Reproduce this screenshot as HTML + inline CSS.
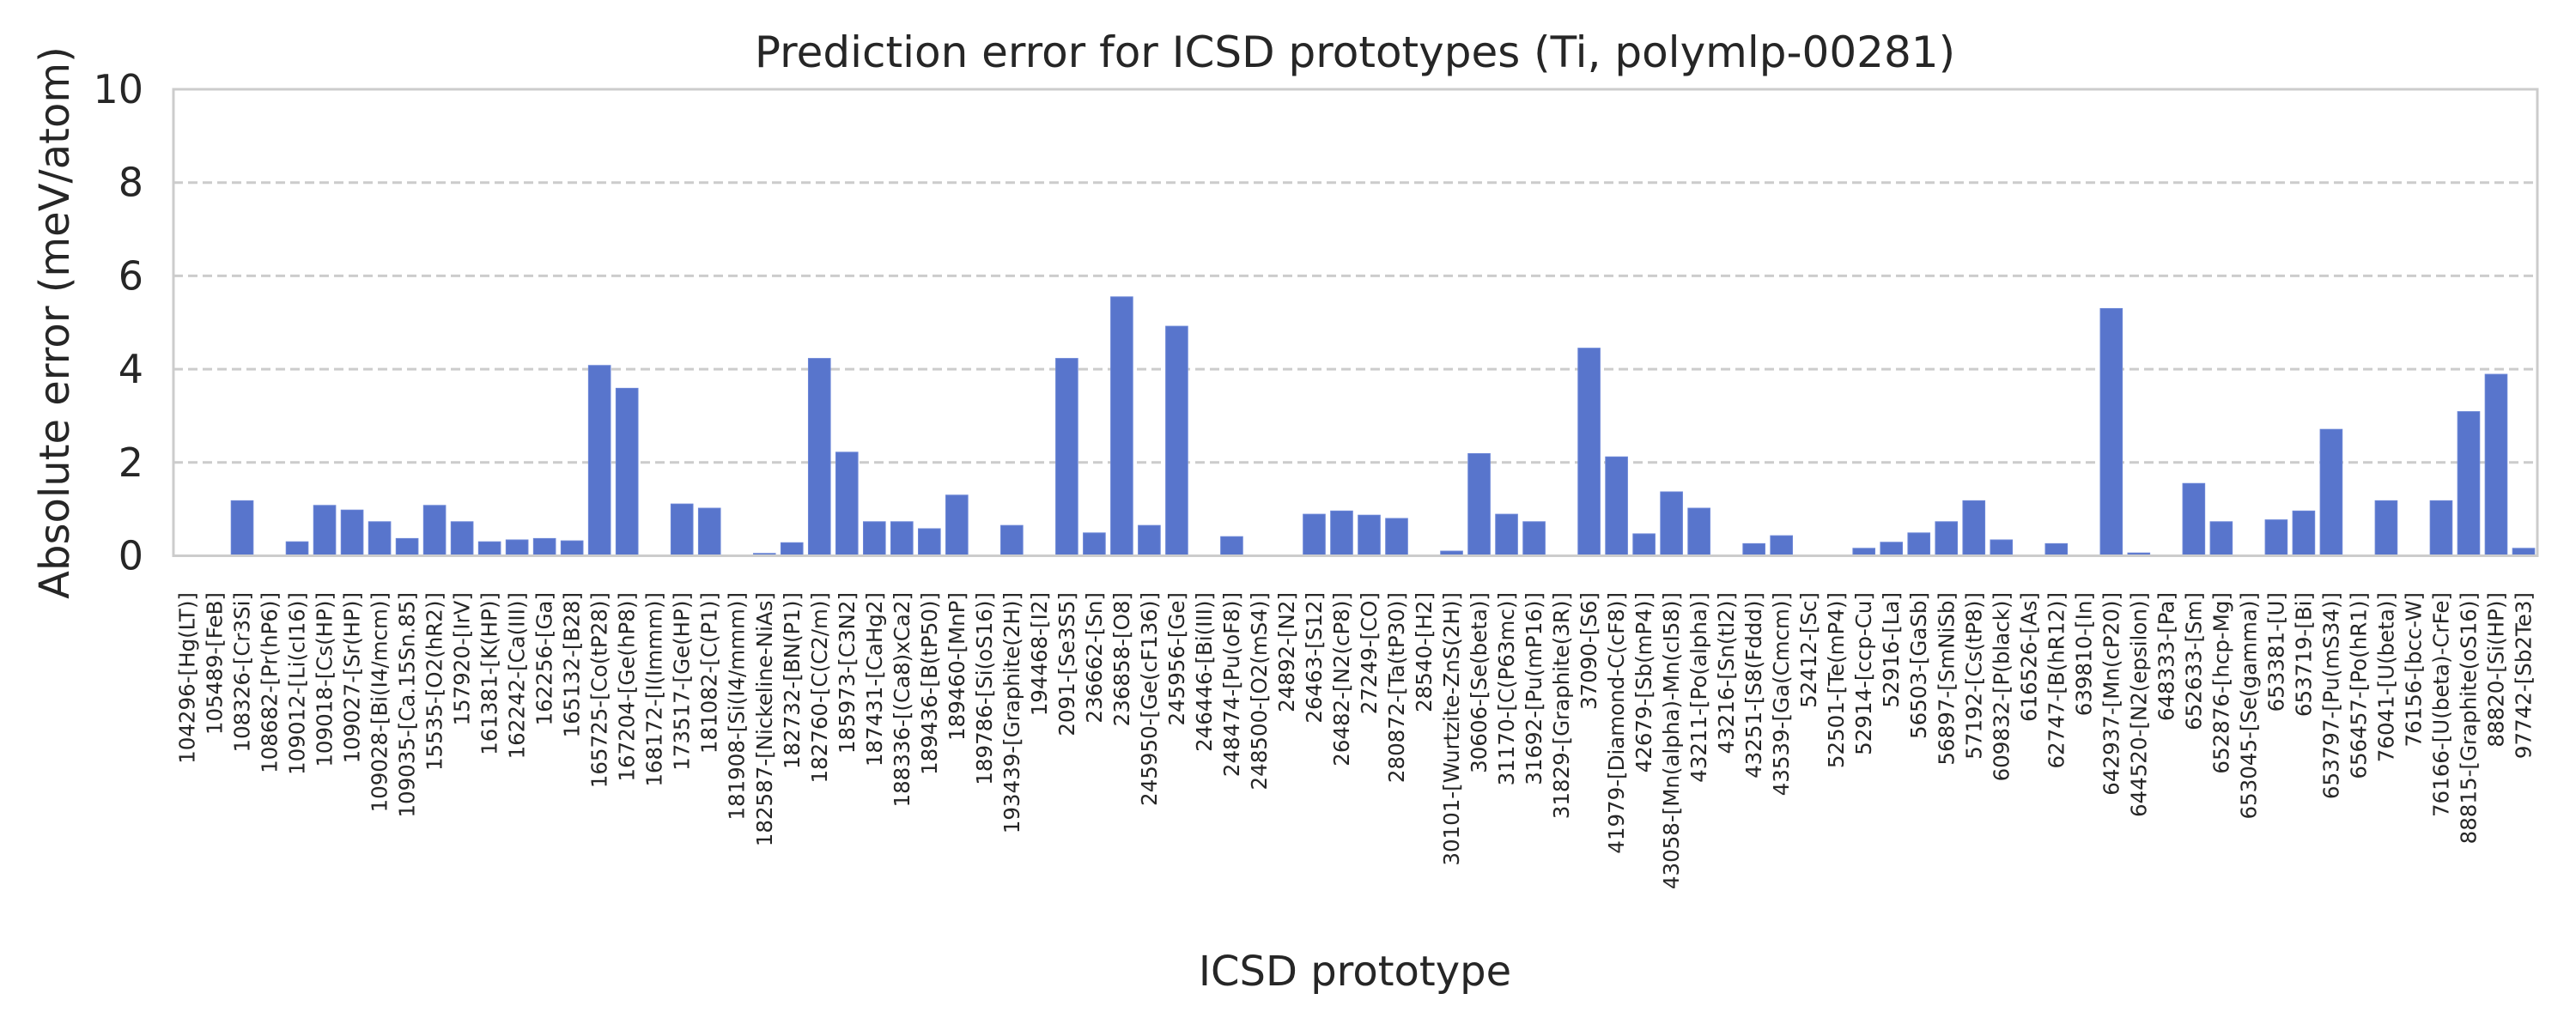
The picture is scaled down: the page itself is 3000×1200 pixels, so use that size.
<!DOCTYPE html>
<html><head><meta charset="utf-8">
<style>
html,body{margin:0;padding:0;background:#fff;}
svg{display:block;font-family:"DejaVu Sans","Liberation Sans",sans-serif;}
</style></head>
<body>
<svg id="chart" width="3000" height="1200" viewBox="0 0 3000 1200" xmlns="http://www.w3.org/2000/svg">
<rect x="0" y="0" width="3000" height="1200" fill="#ffffff"/>
<g id="grid"></g>
<g id="bars"></g>
<rect x="202" y="104" width="2753" height="543.5" fill="none" stroke="#cccccc" stroke-width="3"/>
<g id="yticks"></g>
<g id="xticks"></g>
<text x="1578" y="78" text-anchor="middle" font-size="50" fill="#262626">Prediction error for ICSD prototypes (Ti, polymlp-00281)</text>
<text x="1578" y="1148" text-anchor="middle" font-size="48" fill="#262626">ICSD prototype</text>
<text transform="translate(64,376) rotate(-90)" text-anchor="middle" dominant-baseline="central" font-size="48" fill="#262626">Absolute error (meV/atom)</text>
</svg>
<script>
const categories = ["104296-[Hg(LT)]","105489-[FeB]","108326-[Cr3Si]","108682-[Pr(hP6)]","109012-[Li(cI16)]","109018-[Cs(HP)]","109027-[Sr(HP)]","109028-[Bi(I4/mcm)]","109035-[Ca.15Sn.85]","15535-[O2(hR2)]","157920-[IrV]","161381-[K(HP)]","162242-[Ca(III)]","162256-[Ga]","165132-[B28]","165725-[Co(tP28)]","167204-[Ge(hP8)]","168172-[I(Immm)]","173517-[Ge(HP)]","181082-[C(P1)]","181908-[Si(I4/mmm)]","182587-[Nickeline-NiAs]","182732-[BN(P1)]","182760-[C(C2/m)]","185973-[C3N2]","187431-[CaHg2]","188336-[(Ca8)xCa2]","189436-[B(tP50)]","189460-[MnP]","189786-[Si(oS16)]","193439-[Graphite(2H)]","194468-[I2]","2091-[Se3S5]","236662-[Sn]","236858-[O8]","245950-[Ge(cF136)]","245956-[Ge]","246446-[Bi(III)]","248474-[Pu(oF8)]","248500-[O2(mS4)]","24892-[N2]","26463-[S12]","26482-[N2(cP8)]","27249-[CO]","280872-[Ta(tP30)]","28540-[H2]","30101-[Wurtzite-ZnS(2H)]","30606-[Se(beta)]","31170-[C(P63mc)]","31692-[Pu(mP16)]","31829-[Graphite(3R)]","37090-[S6]","41979-[Diamond-C(cF8)]","42679-[Sb(mP4)]","43058-[Mn(alpha)-Mn(cI58)]","43211-[Po(alpha)]","43216-[Sn(tI2)]","43251-[S8(Fddd)]","43539-[Ga(Cmcm)]","52412-[Sc]","52501-[Te(mP4)]","52914-[ccp-Cu]","52916-[La]","56503-[GaSb]","56897-[SmNiSb]","57192-[Cs(tP8)]","609832-[P(black)]","616526-[As]","62747-[B(hR12)]","639810-[In]","642937-[Mn(cP20)]","644520-[N2(epsilon)]","648333-[Pa]","652633-[Sm]","652876-[hcp-Mg]","653045-[Se(gamma)]","653381-[U]","653719-[Bi]","653797-[Pu(mS34)]","656457-[Po(hR1)]","76041-[U(beta)]","76156-[bcc-W]","76166-[U(beta)-CrFe]","88815-[Graphite(oS16)]","88820-[Si(HP)]","97742-[Sb2Te3]"];
const errorValues = [0,0,1.18,0,0.30,1.08,0.98,0.73,0.37,1.08,0.73,0.30,0.34,0.37,0.32,4.08,3.59,0,1.11,1.02,0,0.05,0.28,4.23,2.22,0.73,0.73,0.58,1.30,0,0.65,0,4.23,0.49,5.55,0.65,4.92,0,0.41,0,0,0.89,0.96,0.87,0.80,0,0.10,2.19,0.89,0.73,0,4.45,2.12,0.47,1.37,1.02,0,0.26,0.43,0,0,0.16,0.29,0.49,0.73,1.18,0.34,0,0.26,0,5.30,0.06,0,1.55,0.73,0,0.77,0.96,2.71,0,1.18,0,1.18,3.09,3.89,0.16];
const yTicks = [0,2,4,6,8,10];

const NS = "http://www.w3.org/2000/svg";
const L = 202, R = 2955, T = 104, B = 647.5;
const yMax = 10;
function yScale(v){ return B - (v / yMax) * (B - T); }
const slot = (R - L) / categories.length;
function xCenter(i){ return L + slot * (i + 0.5); }

const grid = document.getElementById('grid');
const yt = document.getElementById('yticks');
yTicks.forEach(function(t){
  const y = yScale(t);
  if (t > 0 && t < yMax) {
    const ln = document.createElementNS(NS,'line');
    ln.setAttribute('x1', L); ln.setAttribute('x2', R);
    ln.setAttribute('y1', y); ln.setAttribute('y2', y);
    ln.setAttribute('stroke', '#cccccc'); ln.setAttribute('stroke-width', '3');
    ln.setAttribute('stroke-dasharray', '11 6');
    
    
    grid.appendChild(ln);
  }
  const tx = document.createElementNS(NS,'text');
  tx.setAttribute('x', 167); tx.setAttribute('y', y);
  tx.setAttribute('text-anchor', 'end'); tx.setAttribute('dominant-baseline', 'central');
  tx.setAttribute('font-size', '46'); tx.setAttribute('fill', '#262626');
  tx.textContent = String(t);
  
  
  yt.appendChild(tx);
});

const bars = document.getElementById('bars');
const xt = document.getElementById('xticks');
const bw = slot * 0.8;
categories.forEach(function(c, i){
  const v = errorValues[i];
  const cx = xCenter(i);
  if (v > 0) {
    const r = document.createElementNS(NS,'rect');
    const y = yScale(v);
    r.setAttribute('x', cx - bw/2); r.setAttribute('y', y);
    r.setAttribute('width', bw); r.setAttribute('height', B - y);
    r.setAttribute('fill', '#5875cc'); r.setAttribute('stroke', '#6a85d6'); r.setAttribute('stroke-width', '1');
    
    
    bars.appendChild(r);
  }
  const tx = document.createElementNS(NS,'text');
  tx.setAttribute('transform', 'translate(' + cx + ',690) rotate(-90)');
  tx.setAttribute('text-anchor', 'end'); tx.setAttribute('dominant-baseline', 'central');
  tx.setAttribute('font-size', '24.5'); tx.setAttribute('fill', '#262626');
  tx.textContent = c;
  
  
  xt.appendChild(tx);
});
</script>
</body></html>
